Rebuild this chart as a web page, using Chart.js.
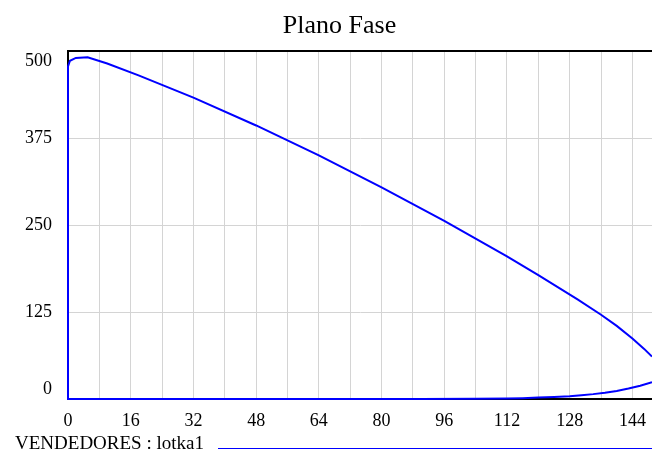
<!DOCTYPE html>
<html>
<head>
<meta charset="utf-8">
<script src="https://cdn.jsdelivr.net/npm/chart.js@4"></script>
<style>
  body { margin: 0; background: #fff; }
  #wrap { position: relative; width: 652px; height: 457px; overflow: hidden; }
  #title { position: absolute; left: 0; width: 679px; top: 10px; text-align: center;
           font: 26px "Liberation Serif", serif; color: #000; }
  #legend { position: absolute; left: 15px; top: 432px; font: 19px "Liberation Serif", serif; color: #000; white-space: nowrap; }
  #legend-line { position: absolute; left: 218px; top: 448px; width: 440px; height: 0; border-top: 1px solid #0000ff; }
  canvas { position: absolute; left: 0; top: 0; }
</style>
</head>
<body>
<div id="wrap">
  <canvas id="fase" width="652" height="457"></canvas>
  <div id="title">Plano Fase</div>
  <div id="legend">VENDEDORES : lotka1</div>
  <div id="legend-line"></div>
</div>
<script>
// trajectory (x, y)
var faseX = [149, 146, 143, 140, 137, 134, 131, 128, 124, 120, 116, 112, 104, 90, 0,
             0, 0, 0, 0.5, 2, 5, 10, 18, 32, 48, 64, 80, 96, 112, 120, 130, 136, 140, 144, 147, 149];
var faseY = [24, 19, 15, 11.5, 9, 7, 5.5, 4, 3, 2, 1.2, 0.6, 0.2, 0, 0,
             150, 350, 478, 486, 490, 491, 482, 465, 433, 393, 350, 304, 256, 205, 178, 143, 121, 105, 87, 72, 61];
var serieLabel = 'VENDEDORES : lotka1';
var xTicks = [0, 8, 16, 24, 32, 40, 48, 56, 64, 72, 80, 88, 96, 104, 112, 120, 128, 136, 144];
var xLabelStep = 16;
var yTicks = [0, 125, 250, 375, 500];
var xMin = 0, xMax = 149, yMin = 0, yMax = 500;

var puntos = faseX.map((x, i) => ({ x: x, y: faseY[i] }));

// top frame line and y labels (first/last nudged inward like the original)
var marco = {
    id: 'marco',
    afterDraw(chart) {
        var a = chart.chartArea, c = chart.ctx, ys = chart.scales.y;
        c.save();
        c.strokeStyle = '#000';
        c.lineWidth = 2;
        c.beginPath();
        c.moveTo(a.left - 1, a.top);
        c.lineTo(a.right, a.top);
        c.stroke();
        c.fillStyle = '#000';
        c.font = '18px "Liberation Serif"';
        c.textAlign = 'right';
        c.textBaseline = 'middle';
        yTicks.forEach((v, i) => {
            var off = 0;
            if (i === 0) off = -10;
            if (i === yTicks.length - 1) off = 10;
            c.fillText(String(v), a.left - 16, ys.getPixelForValue(v) + off);
        });
        c.restore();
    }
};

var ctx = document.getElementById('fase').getContext('2d');
var chart = new Chart(ctx, {
    type: 'scatter',
    data: {
        datasets: [{
            label: serieLabel,
            data: puntos,
            showLine: true,
            borderColor: '#0000ff',
            borderWidth: 2,
            pointRadius: 0,
            tension: 0,
            clip: { left: 2, right: 0, top: 0, bottom: 2 }
        }]
    },
    options: {
        responsive: false,
        animation: false,
        layout: { padding: { top: 51, left: 0, right: 0, bottom: 0 } },
        plugins: { legend: { display: false }, tooltip: { enabled: false }, title: { display: false } },
        scales: {
            x: {
                type: 'linear',
                min: xMin, max: xMax,
                afterFit: s => { s.height = 58; s.paddingLeft = 0; s.paddingRight = 0; },
                afterBuildTicks: s => { s.ticks = xTicks.map(v => ({ value: v })); },
                ticks: {
                    autoSkip: false,
                    maxRotation: 0,
                    padding: 11,
                    color: '#000',
                    font: { family: 'Liberation Serif', size: 18 },
                    callback: v => (v % xLabelStep === 0 ? v : '')
                },
                grid: { color: '#d4d4d4', lineWidth: 1, drawTicks: false },
                border: { color: '#000', width: 2 }
            },
            y: {
                min: yMin, max: yMax,
                afterFit: s => { s.width = 68; s.paddingTop = 0; s.paddingBottom = 0; },
                afterBuildTicks: s => { s.ticks = yTicks.map(v => ({ value: v })); },
                ticks: { display: false },
                grid: { color: '#d4d4d4', lineWidth: 1, drawTicks: false },
                border: { color: '#000', width: 2 }
            }
        }
    },
    plugins: [marco]
});
</script>
</body>
</html>
